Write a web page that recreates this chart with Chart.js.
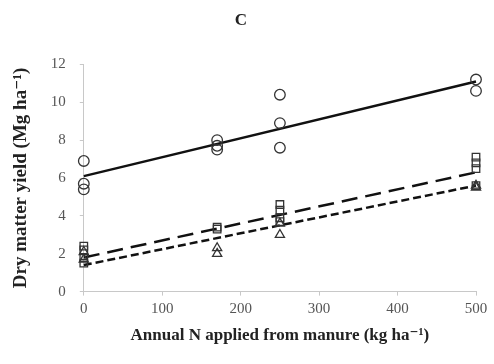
<!DOCTYPE html>
<html>
<head>
<meta charset="utf-8">
<script src="https://cdn.jsdelivr.net/npm/chart.js@4/dist/chart.umd.min.js"></script>
<style>
  html, body { margin: 0; padding: 0; background: #fff; }
  #wrap { width: 494px; height: 364px; }
</style>
</head>
<body>
<div id="wrap"><canvas id="chart"></canvas></div>
<script>
// observed yields (Mg/ha) at each manure N rate
const circleX = [0, 0, 0, 170, 170, 170, 250, 250, 250, 500, 500];
const circleY = [6.9, 5.7, 5.4, 8.0, 7.7, 7.5, 10.4, 8.9, 7.6, 11.2, 10.6];

const squareX = [0, 0, 0, 0, 170, 170, 250, 250, 250, 250, 500, 500, 500, 500];
const squareY = [2.4, 2.2, 1.8, 1.5, 3.4, 3.3, 4.6, 4.3, 3.9, 3.7, 7.1, 6.8, 6.5, 5.6];

const triangleX = [0, 0, 170, 170, 250, 250, 500, 500];
const triangleY = [2.1, 1.7, 2.3, 2.0, 3.6, 3.0, 5.6, 5.5];

// fitted lines, end points
const fitX = [0, 500];
const fitSolid = [6.1, 11.1];
const fitLongDash = [1.8, 6.3];
const fitShortDash = [1.4, 5.6];

const xTicks = [0, 100, 200, 300, 400, 500];
const yTicks = [0, 2, 4, 6, 8, 10, 12];

function pts(xs, ys) {
    return xs.map((x, i) => ({ x: x, y: ys[i] }));
}

const serif = "'Liberation Serif', 'DejaVu Serif', serif";

const markerStyle = {
    backgroundColor: 'rgba(255,255,255,0)',
    borderColor: '#333',
    borderWidth: 1.3,
    pointRadius: 5.3,
    showLine: false,
    clip: false
};

const lineStyle = {
    borderColor: '#111',
    borderWidth: 2.5,
    pointRadius: 0,
    showLine: true,
    fill: false,
    clip: false
};

new Chart(document.getElementById('chart').getContext('2d'), {
    type: 'scatter',
    data: {
        datasets: [
            Object.assign({ label: 'circles', data: pts(circleX, circleY), pointStyle: 'circle' }, markerStyle),
            Object.assign({ label: 'squares', data: pts(squareX, squareY), pointStyle: 'rect' }, markerStyle),
            Object.assign({ label: 'triangles', data: pts(triangleX, triangleY), pointStyle: 'triangle' }, markerStyle),
            Object.assign({ label: 'fit 1', data: pts(fitX, fitSolid) }, lineStyle),
            Object.assign({ label: 'fit 2', data: pts(fitX, fitLongDash), borderDash: [16, 8] }, lineStyle),
            Object.assign({ label: 'fit 3', data: pts(fitX, fitShortDash), borderDash: [8, 4] }, lineStyle)
        ]
    },
    options: {
        responsive: true,
        maintainAspectRatio: false,
        animation: false,
        layout: { padding: { left: 6, right: 18, top: 4, bottom: 14 } },
        plugins: {
            legend: { display: false },
            tooltip: { enabled: false },
            title: {
                display: true,
                text: 'C',
                color: '#222',
                font: { family: serif, size: 17, weight: 'bold' },
                padding: { top: 6, bottom: 34 }
            }
        },
        scales: {
            x: {
                type: 'linear',
                min: 0,
                max: 500,
                afterBuildTicks: axis => { axis.ticks = xTicks.map(v => ({ value: v })); },
                border: { color: '#c8c8c8', width: 1 },
                grid: { drawOnChartArea: false, color: '#c8c8c8', tickLength: 4 },
                ticks: { color: '#555', font: { family: serif, size: 15 }, padding: 4 },
                title: {
                    display: true,
                    text: 'Annual N applied from manure (kg ha\u207B\u00B9)',
                    color: '#222',
                    font: { family: serif, size: 17, weight: 'bold' },
                    padding: { top: 4 }
                }
            },
            y: {
                type: 'linear',
                min: 0,
                max: 12,
                afterBuildTicks: axis => { axis.ticks = yTicks.map(v => ({ value: v })); },
                border: { color: '#c8c8c8', width: 1 },
                grid: { drawOnChartArea: false, color: '#c8c8c8', tickLength: 4 },
                ticks: { color: '#555', font: { family: serif, size: 15 }, padding: 14 },
                title: {
                    display: true,
                    text: 'Dry matter yield (Mg ha\u207B\u00B9)',
                    color: '#222',
                    font: { family: serif, size: 19, weight: 'bold' },
                    padding: { bottom: 4 }
                }
            }
        }
    }
});
</script>
</body>
</html>
